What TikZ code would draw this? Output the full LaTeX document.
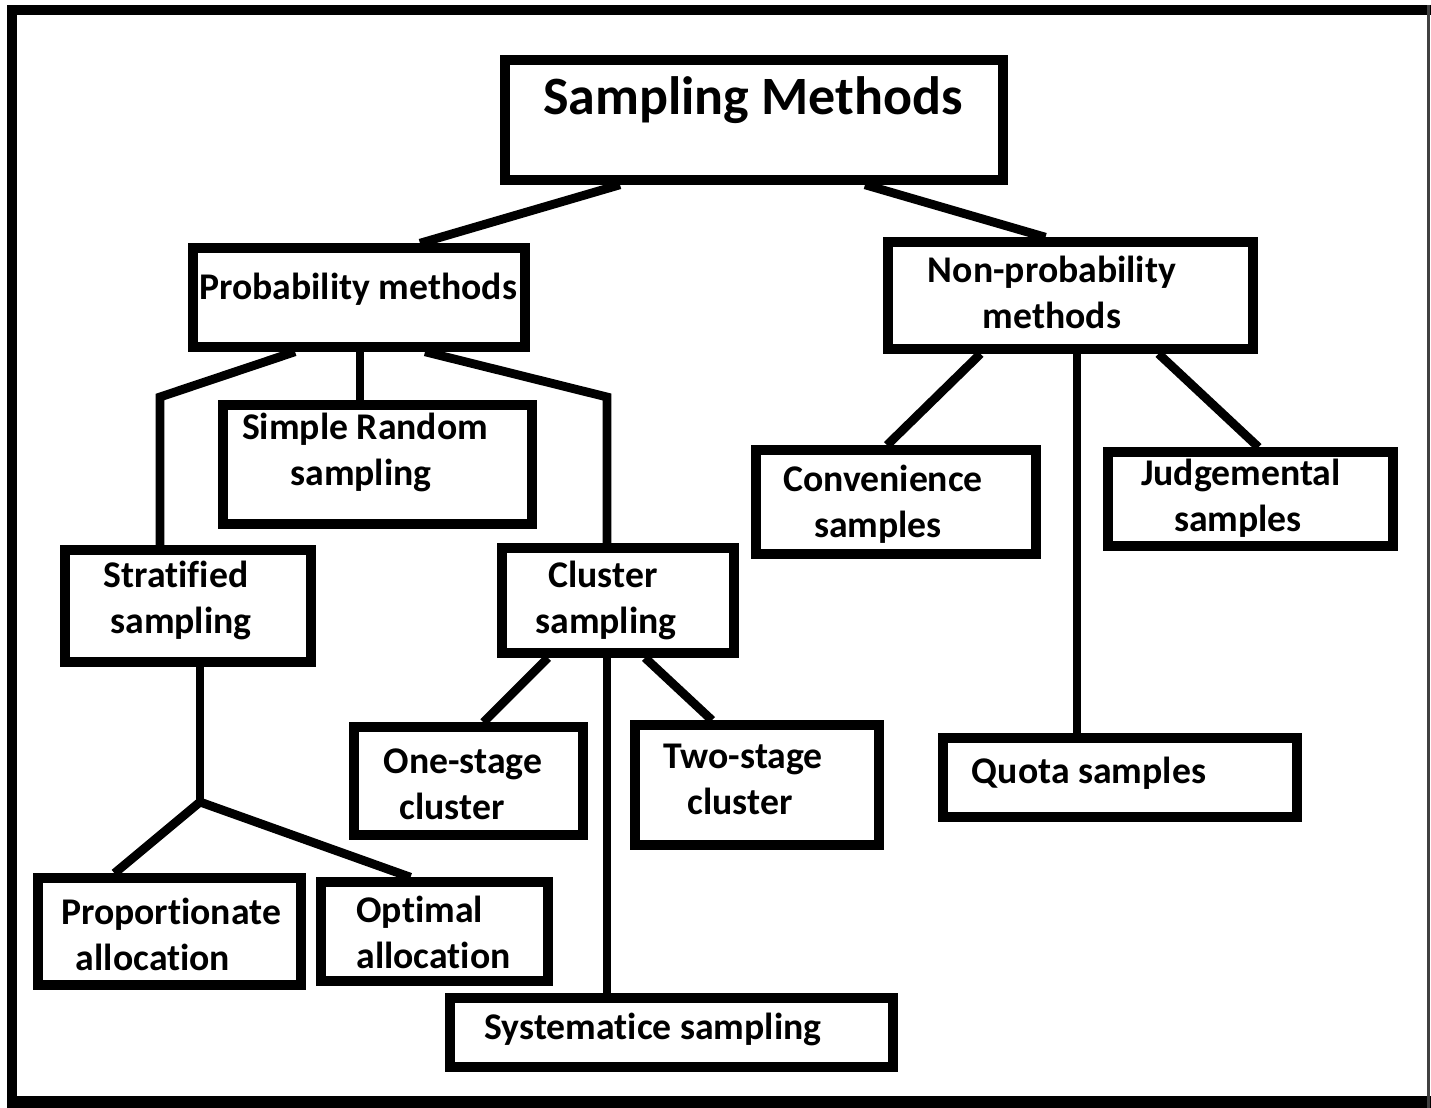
\documentclass[tikz,border=0pt]{standalone}
\usepackage{fontspec}
\setmainfont[Ligatures={NoCommon}]{Carlito}
\usetikzlibrary{calc}
\begin{document}
\begin{tikzpicture}[x=0.5pt,y=-0.5pt,
  box/.style 2 args={draw, line width=4.75pt, minimum width=#1*0.5pt-1pt, minimum height=#2*0.5pt-1pt, inner sep=0pt},
  txt/.style={font=\bfseries\fontsize{18.85pt}{23pt}\selectfont, align=center, inner sep=0pt},
  ttl/.style={font=\bfseries\fontsize{27pt}{32pt}\selectfont, inner sep=0pt},
  conn/.style={line width=4.4pt, line join=miter}]
\useasboundingbox (0,0) rectangle (1431,1108);
% outer frame
\fill[black] (7,5) rectangle (1431,15);
\fill[black] (7,5) rectangle (17,1108);
\fill[black] (7,1096) rectangle (1431,1108);
\fill[black!75] (1427,5) rectangle (1430,1108);

% boxes
\node[box={500}{122}] (sm) at (754,120) {};
\node[box={334}{101}] (pm) at (359,297.5) {};
\node[box={367}{109}] (np) at (1070.5,295.5) {};
\node[box={311}{121}] (srs) at (377.5,464.5) {};
\node[box={248}{114}] (st) at (188,606) {};
\node[box={234}{107}] (cs) at (618,600.5) {};
\node[box={265}{109}] (pa) at (169.5,931.5) {};
\node[box={229}{101}] (oa) at (434.5,931.5) {};
\node[box={231}{110}] (one) at (468.5,781) {};
\node[box={246}{122}] (two) at (757,785) {};
\node[box={445}{71}] (sys) at (671.5,1032.5) {};
\node[box={282}{106}] (cv) at (896,502) {};
\node[box={287}{96}] (jd) at (1250.5,499) {};
\node[box={356}{81}] (qs) at (1120,777.5) {};

% texts
\node[ttl] (smT) at (753,100) {Sampling Methods};
\node[txt] (pmT) at (358,289) {Probability methods};
\node[txt] (npT) at (1052,292) {Non-probability\\methods};
\node[txt] (srsT) at (365,452) {Simple Random\\\hspace*{-4pt}sampling};
\node[txt] (stT) at (176,600) {Stratified\\\hspace*{5pt}sampling};
\node[txt] (csT) at (603,600) {Cluster\\\hspace*{3pt}sampling};
\node[txt] (paT) at (171,934) {Proportionate\\\hspace*{-18pt}allocation};
\node[txt, align=left, anchor=west] (oaT) at (356,932) {Optimal\\allocation};
\node[txt] (oneT) at (463,784) {One-stage\\\hspace*{-11pt}cluster};
\node[txt] (twoT) at (743,779) {Two-stage\\\hspace*{-3pt}cluster};
\node[txt] (sysT) at (653,1029) {Systematice sampling};
\node[txt] (cvT) at (883,504) {Convenience\\\hspace*{-5pt}samples};
\node[txt] (jdT) at (1241,498) {Judgemental\\\hspace*{-3pt}samples};
\node[txt] (qsT) at (1089,773) {Quota samples};

% connectors
\draw[conn] ($(sm.south)+(-134,0)$) -- ($(pm.north)+(61,0)$);
\draw[conn] ($(sm.south)+(111,0)$) -- ($(np.north)+(-25,0)$);

\coordinate (pl) at (160,397);
\coordinate (pr) at (607,397);
\draw[conn] ($(pm.south)+(-64,0)$) -- (pl) -- ($(st.north)+(-28,0)$);
\draw[conn] ($(pm.south)+(1,0)$) -- ($(srs.north)+(-17.5,0)$);
\draw[conn] ($(pm.south)+(66,0)$) -- (pr) -- ($(cs.north)+(-11,0)$);

\coordinate (sj) at (200,802);
\draw[conn] ($(st.south)+(12,0)$) -- (sj);
\draw[conn] (sj) -- ($(pa.north)+(-55,0)$);
\draw[conn] (sj) -- ($(oa.north)+(-24,0)$);

\draw[conn] ($(cs.south)+(-70,0)$) -- ($(one.north)+(15,0)$);
\draw[conn] ($(cs.south)+(-11,0)$) -- ($(sys.north)+(-64.5,0)$);
\draw[conn] ($(cs.south)+(27,0)$) -- ($(two.north)+(-45,0)$);

\draw[conn] ($(np.south)+(-90,0)$) -- ($(cv.north)+(-9,0)$);
\draw[conn] ($(np.south)+(6.5,0)$) -- ($(qs.north)+(-43,0)$);
\draw[conn] ($(np.south)+(88,0)$) -- ($(jd.north)+(8,0)$);
\end{tikzpicture}
\end{document}
